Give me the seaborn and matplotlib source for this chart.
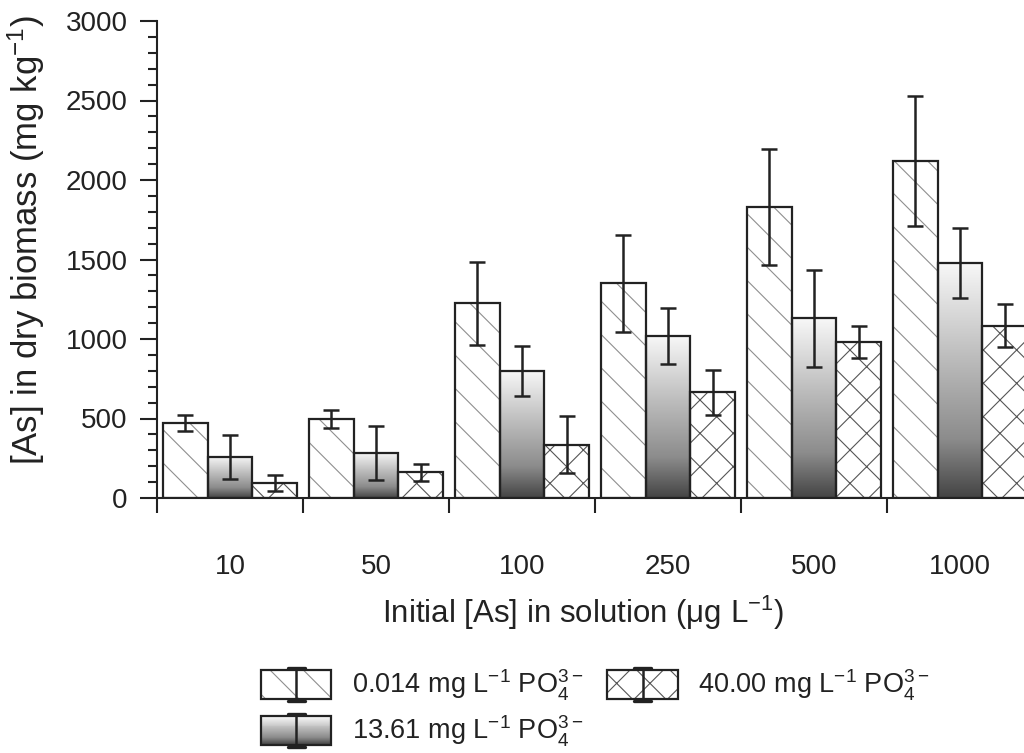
import numpy as np
import pandas as pd
import matplotlib
matplotlib.use("Agg")
import matplotlib.pyplot as plt
import seaborn as sns
from matplotlib.patches import Rectangle
from matplotlib.lines import Line2D
from matplotlib.legend_handler import HandlerBase
from matplotlib.colors import LinearSegmentedColormap

# ---------------- data ----------------
concentrations = ["10", "50", "100", "250", "500", "1000"]
series_labels = [
    "0.014 mg L$^{-1}$ PO$_4^{3-}$",
    "13.61 mg L$^{-1}$ PO$_4^{3-}$",
    "40.00 mg L$^{-1}$ PO$_4^{3-}$",
]
means_low = [470, 495, 1225, 1350, 1830, 2120]
err_low = [50, 57, 260, 307, 363, 407]
means_mid = [258, 285, 801, 1020, 1130, 1478]
err_mid = [140, 170, 157, 178, 303, 223]
means_high = [95, 163, 336, 665, 980, 1083]
err_high = [48, 53, 181, 143, 102, 135]

all_means = [means_low, means_mid, means_high]
all_errs = [err_low, err_mid, err_high]

rows = []
for s, lab in enumerate(series_labels):
    for c, conc in enumerate(concentrations):
        rows.append({"conc": conc, "series": lab,
                     "value": all_means[s][c], "err": all_errs[s][c]})
df = pd.DataFrame(rows)

# ---------------- style ----------------
sns.set_style("ticks")
plt.rcParams["font.family"] = ["Liberation Sans", "DejaVu Sans"]
plt.rcParams["mathtext.fontset"] = "custom"
plt.rcParams["mathtext.rm"] = "Liberation Sans"
plt.rcParams["mathtext.it"] = "Liberation Sans:italic"
plt.rcParams["mathtext.bf"] = "Liberation Sans:bold"
plt.rcParams["mathtext.default"] = "regular"
plt.rcParams["hatch.linewidth"] = 0.8

TXT = "#222222"
EDGE = "#222222"
grad_cmap = LinearSegmentedColormap.from_list(
    "g", [(0.0, "#444444"), (0.25, "#8c8c8c"), (0.6, "#bdbdbd"), (1.0, "#f8f8f8")])
hatch_styles = [("\\", "#8f8f8f"), (None, None), ("x", "#555555")]

fig = plt.figure(figsize=(10.24, 7.53), dpi=100)
ax = fig.add_axes([157 / 1024, 255 / 753, 876 / 1024, 477 / 753])

sns.barplot(data=df, x="conc", y="value", hue="series", order=concentrations,
            hue_order=series_labels, palette=["white"] * 3, saturation=1,
            width=0.915, errorbar=None, linewidth=0, legend=False, ax=ax)

bar_containers = list(ax.containers)
for s, cont in enumerate(bar_containers):
    xs, hs = [], []
    for bar in cont.patches:
        x, w, h = bar.get_x(), bar.get_width(), bar.get_height()
        xs.append(x + w / 2)
        hs.append(h)
        if s == 1:
            bar.set_facecolor("none")
            img = ax.imshow(np.linspace(0, 1, 256).reshape(-1, 1), cmap=grad_cmap,
                            extent=(x, x + w, 0, h), aspect="auto", origin="lower",
                            zorder=2)
            img.set_clip_path(bar)
        else:
            hatch, hc = hatch_styles[s]
            bar.set_hatch(hatch)
            bar.set_edgecolor(hc)
            bar.set_linewidth(0)
        ax.add_patch(Rectangle((x, 0), w, h, fill=False, edgecolor=EDGE,
                               linewidth=1.6, zorder=3))
    ax.errorbar(xs, hs, yerr=all_errs[s], fmt="none", ecolor=EDGE,
                elinewidth=1.8, capsize=5.8, capthick=1.8, zorder=4)

ax.set_xlim(-0.5, 5.5)
ax.set_ylim(0, 3000)

for sp in ["top", "right"]:
    ax.spines[sp].set_visible(False)
for sp in ["left", "bottom"]:
    ax.spines[sp].set_linewidth(1.5)
    ax.spines[sp].set_color(EDGE)

ax.set_yticks(np.arange(0, 3001, 500))
ax.set_yticks(np.arange(0, 3001, 100), minor=True)
ax.tick_params(axis="y", which="major", length=12, width=1.5, direction="out",
               labelsize=20, pad=9, colors=EDGE, labelcolor=TXT)
ax.tick_params(axis="y", which="minor", length=6.5, width=1.5, direction="out",
               colors=EDGE)

ax.set_xticks(np.arange(-0.5, 6.0, 1.0), labels=[""] * 7)
ax.set_xticks(np.arange(6), labels=concentrations, minor=True)
ax.tick_params(axis="x", which="major", length=11, width=1.5, direction="out",
               colors=EDGE)
ax.tick_params(axis="x", which="minor", length=0, labelsize=20, pad=40,
               labelcolor=TXT)

ax.set_xlabel("Initial [As] in solution (\u03bcg L$^{-1}$)", fontsize=22.5, color=TXT)
ax.xaxis.set_label_coords(0.486, -0.200)
ax.set_ylabel("[As] in dry biomass (mg kg$^{-1}$)", fontsize=25, color=TXT)
ax.yaxis.set_label_coords(-0.125, 0.541)


# ---------------- legend ----------------
class BarHandle:
    def __init__(self, kind):
        self.kind = kind


class BarHandler(HandlerBase):
    def create_artists(self, legend, orig_handle, xdescent, ydescent, width,
                       height, fontsize, trans):
        x0, y0 = -xdescent, -ydescent
        arts = []
        if orig_handle.kind == 1:
            n = 30
            for k in range(n):
                arts.append(Rectangle((x0, y0 + height * k / n), width,
                                      height / n * 1.05,
                                      facecolor=grad_cmap(k / (n - 1)),
                                      edgecolor="none", transform=trans))
        else:
            hatch, hc = hatch_styles[orig_handle.kind]
            arts.append(Rectangle((x0, y0), width, height, facecolor="white",
                                  edgecolor=hc, hatch=hatch, linewidth=0,
                                  transform=trans))
        arts.append(Rectangle((x0, y0), width, height, fill=False,
                              edgecolor=EDGE, linewidth=1.6, transform=trans))
        xm = x0 + width / 2
        ext = height * 0.08
        arts.append(Line2D([xm, xm], [y0 - ext, y0 + height + ext], color=EDGE,
                           lw=1.8, transform=trans))
        cap = width * 0.12
        for yy in (y0 - ext, y0 + height + ext):
            arts.append(Line2D([xm - cap, xm + cap], [yy, yy], color=EDGE,
                               lw=2.4, transform=trans))
        return arts


handles = [BarHandle(0), BarHandle(1), BarHandle(2)]
leg = fig.legend(handles, series_labels, handler_map={BarHandle: BarHandler()},
                 loc="upper left", bbox_to_anchor=(261 / 1024, 1 - 668 / 753),
                 ncol=2, frameon=False, fontsize=19.5, handlelength=2.6,
                 handleheight=1.25, handletextpad=0.75, columnspacing=0.9,
                 labelspacing=0.38, borderaxespad=0, borderpad=0)
for t in leg.get_texts():
    t.set_color(TXT)

fig.savefig("out.png", dpi=100)
